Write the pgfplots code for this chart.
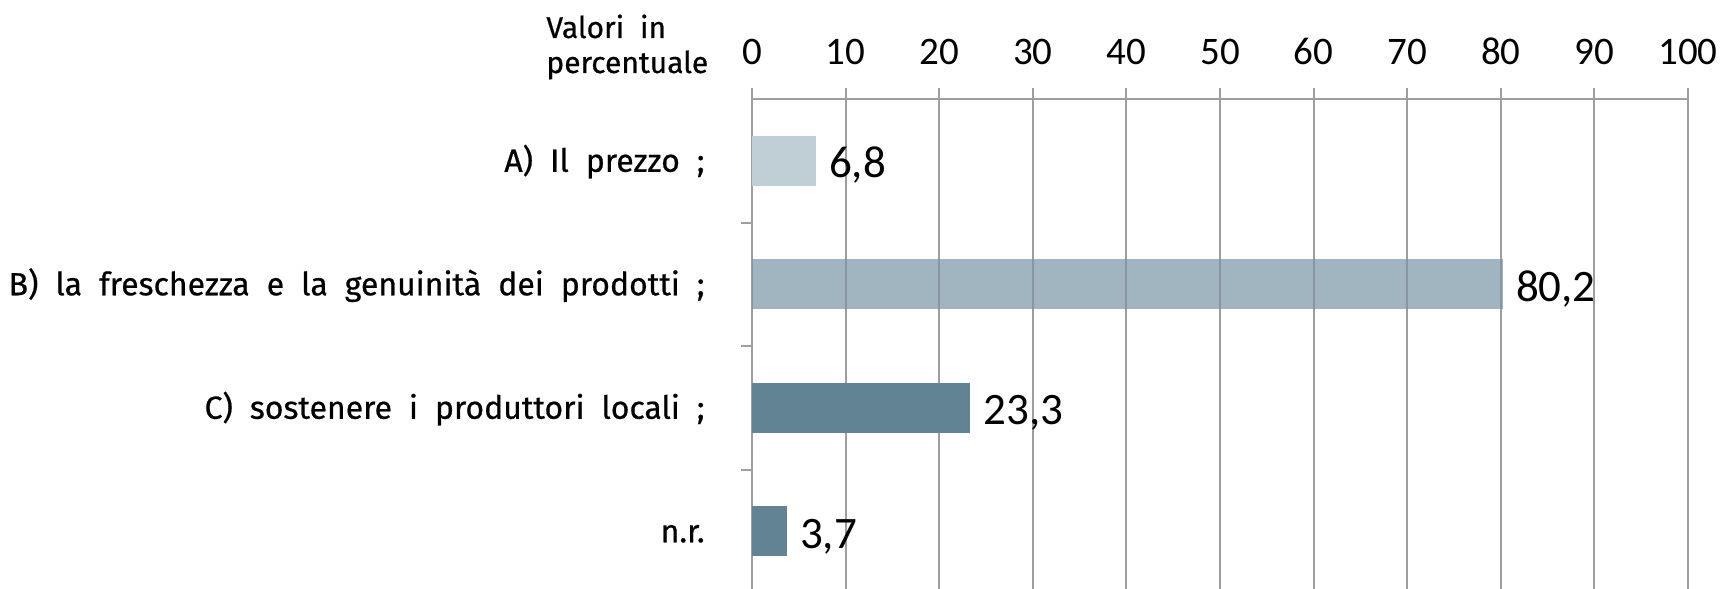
\documentclass[border=0pt]{standalone}
\usepackage{fontspec}
\setmainfont{Carlito}
\newfontfamily\labfont[FakeBold=0.6]{Fira Sans}
\usepackage{pgfplots}
\pgfplotsset{compat=1.18}
\definecolor{gridgrey}{RGB}{158,158,158}
\definecolor{barA}{RGB}{192,207,214}
\definecolor{barB}{RGB}{121,149,165}
\definecolor{barC}{RGB}{98,131,148}
\newcommand{\labfnt}{\labfont\fontsize{16}{18}\selectfont\frenchspacing\spaceskip=8.5pt plus 1pt minus 1pt\relax}
\newcommand{\valfnt}{\labfont\fontsize{15}{17}\selectfont\frenchspacing\spaceskip=8pt plus 1pt minus 1pt\relax}
\begin{document}
\begin{tikzpicture}
\begin{axis}[
  at={(376pt,-2pt)}, anchor=south west,
  width=468pt, height=247pt, scale only axis,
  xbar, bar width=25pt, bar shift=0pt,
  xmin=0, xmax=100, ymin=-0.5, ymax=3.5, y dir=reverse,
  axis x line*=top, axis y line*=left,
  axis line style={draw=gridgrey, line width=1pt, -},
  xtick={0,10,...,100},
  xmajorgrids,
  major grid style={draw=gridgrey, line width=1pt},
  tick align=outside,
  major tick length=5.5pt,
  tick style={draw=gridgrey, line width=1pt},
  /pgf/number format/assume math mode=true,
  xticklabel style={font=\fontsize{19.5}{21}\selectfont, anchor=base, inner sep=0pt, yshift=12pt},
  ytick={0.5,1.5,2.5}, yticklabels={},
  extra y ticks={0,1,2,3},
  extra y tick labels={A) Il prezzo ;, B) la freschezza e la genuinità dei prodotti ;, C) sostenere i produttori locali ;, n.r.},
  extra y tick style={major tick length=0pt,
     yticklabel style={anchor=base east, inner sep=0pt, xshift=-23.5pt, yshift=-5.5pt, font=\labfnt}},
  nodes near coords,
  nodes near coords style={font=\fontsize{22.5}{24}\selectfont, anchor=base west, inner sep=0pt, xshift=6.5pt, yshift=-8.5pt, text=black,
     /pgf/number format/.cd, use comma, fixed, fixed zerofill, precision=1, assume math mode=true},
]
\addplot[fill=barA, draw=none] coordinates {(6.8,0)};
\addplot[fill=barB, fill opacity=0.7, text opacity=1, draw=none] coordinates {(80.2,1)};
\addplot[fill=barC, draw=none] coordinates {(23.3,2)};
\addplot[fill=barC, draw=none] coordinates {(3.7,3)};
\end{axis}
\node[anchor=base west, inner sep=0pt, font=\valfnt] at (273pt,275.5pt) {Valori in};
\node[anchor=base west, inner sep=0pt, font=\valfnt] at (273pt,258pt) {percentuale};
\pgfresetboundingbox
\path[use as bounding box] (0pt,0pt) rectangle (860pt,294.5pt);
\end{tikzpicture}
\end{document}
